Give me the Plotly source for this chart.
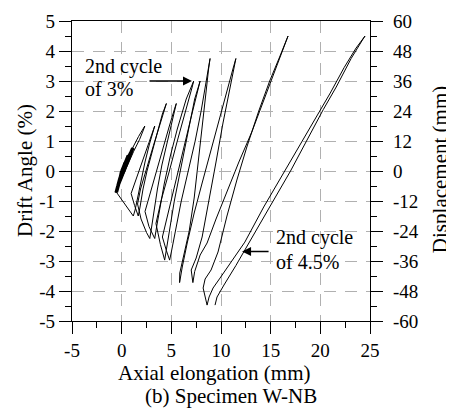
import plotly.graph_objects as go

# ---------------- data ----------------
# small cycles (0.25 %, 0.5 %, 0.75 %)
elong_small = [0.0, 0.15, 0.3, 0.15, -0.05, -0.2, -0.05, 0.15, 0.32, 0.18, 0.0, -0.18, -0.05,
               0.2, 0.45, 0.62, 0.4, 0.1, -0.2, -0.4, -0.2, 0.15, 0.45, 0.68, 0.45, 0.12, -0.2, -0.38, -0.15,
               0.2, 0.6, 0.9, 1.08, 0.85, 0.45, 0.0, -0.35, -0.58, -0.4, 0.0, 0.45, 0.85, 1.15, 0.9, 0.5, 0.05, -0.3, -0.5]
drift_small = [0.0, 0.12, 0.25, 0.1, -0.1, -0.25, -0.08, 0.12, 0.26, 0.1, -0.1, -0.25, -0.05,
               0.15, 0.35, 0.5, 0.25, -0.05, -0.3, -0.5, -0.25, 0.1, 0.35, 0.52, 0.28, -0.05, -0.32, -0.52, -0.2,
               0.12, 0.42, 0.62, 0.75, 0.55, 0.22, -0.15, -0.45, -0.72, -0.5, -0.12, 0.25, 0.55, 0.77, 0.55, 0.22, -0.15, -0.45, -0.7]

# 1.5 % cycles
elong_15 = [-0.3, 0.2, 0.7, 1.15, 1.7, 2.1, 2.33, 2.25, 1.8, 1.2, 0.5, -0.2, -0.5, 0.2, 0.8, 1.17,
            1.35, 1.6, 1.95, 2.35, 2.8, 3.15, 3.33, 3.2, 2.75, 2.1, 1.45, 0.95, 1.3, 1.67]
drift_15 = [-0.4, 0.05, 0.45, 0.8, 1.15, 1.4, 1.5, 1.42, 1.05, 0.65, 0.1, -0.4, -0.72, -1.05, -1.35, -1.5,
            -1.3, -0.9, -0.3, 0.3, 0.9, 1.3, 1.5, 1.38, 0.95, 0.35, -0.25, -0.75, -1.15, -1.5]

# 2.25 % cycles
elong_225 = [1.85, 2.15, 2.55, 3.05, 3.6, 4.1, 4.5, 4.35, 3.9, 3.2, 2.5, 1.9, 1.6, 1.95, 2.5, 2.83,
             3.0, 3.25, 3.6, 4.05, 4.6, 5.1, 5.5, 5.35, 4.8, 4.1, 3.4, 2.75, 2.35, 2.75, 3.15, 3.33]
drift_225 = [-1.2, -0.6, 0.0, 0.6, 1.3, 1.9, 2.25, 2.1, 1.6, 0.85, 0.1, -0.6, -1.1, -1.6, -2.05, -2.25,
             -1.9, -1.3, -0.6, 0.2, 1.0, 1.75, 2.25, 2.1, 1.5, 0.7, -0.1, -0.85, -1.35, -1.85, -2.15, -2.25]

# 3 % cycles
elong_3 = [3.5, 3.85, 4.3, 4.9, 5.6, 6.5, 7.25, 7.1, 6.4, 5.6, 4.8, 4.0, 3.45, 3.9, 4.33,
           4.5, 4.85, 5.3, 5.9, 6.6, 7.35, 7.9, 7.7, 7.0, 6.2, 5.3, 4.5, 4.1, 4.5, 4.83]
drift_3 = [-1.9, -1.2, -0.4, 0.5, 1.4, 2.4, 3.0, 2.8, 2.0, 1.0, 0.0, -0.95, -1.75, -2.45, -2.97,
           -2.6, -1.9, -1.0, 0.0, 1.2, 2.4, 3.0, 2.75, 1.8, 0.7, -0.5, -1.6, -2.2, -2.65, -2.97]

# 3.75 % cycles
elong_375 = [5.0, 5.4, 6.0, 6.7, 7.4, 8.0, 8.5, 8.9, 8.75, 8.45, 8.1, 7.7, 7.3, 6.8, 6.2, 5.85, 5.83,
             6.1, 6.6, 7.3, 8.1, 8.9, 9.8, 10.7, 11.2, 11.5, 11.35, 10.9, 10.2, 9.5, 8.8, 8.1, 7.5, 7.0, 7.17]
drift_375 = [-2.7, -2.0, -1.0, 0.0, 1.0, 2.0, 3.0, 3.75, 3.4, 2.5, 1.4, 0.2, -0.9, -2.0, -2.9, -3.4, -3.72,
             -3.2, -2.4, -1.4, -0.4, 0.6, 1.7, 2.8, 3.4, 3.75, 3.5, 2.8, 1.6, 0.3, -1.0, -2.2, -2.9, -3.3, -3.72]

# 4.5 % cycles
elong_45 = [7.35, 7.9, 8.6, 9.5, 10.7, 11.8, 13.1, 14.4, 15.6, 16.3, 16.75,
            16.5, 15.9, 14.9, 13.8, 12.6, 11.6, 10.6, 9.7, 9.0, 8.4, 8.2, 8.45, 8.6,
            8.8, 9.2, 9.9, 11.1, 12.4, 14.3, 16.4, 18.4, 19.9, 21.0, 22.4, 23.6, 24.5,
            24.3, 23.1, 21.6, 20.3, 18.9, 17.0, 14.9, 13.0, 11.5, 10.3, 9.6, 9.4]
drift_45 = [-3.35, -2.8, -2.4, -1.6, -0.6, 0.3, 1.3, 2.45, 3.5, 4.1, 4.5,
            4.3, 3.8, 3.0, 2.0, 0.8, -0.3, -1.5, -2.7, -3.3, -3.6, -3.9, -4.3, -4.47,
            -4.2, -3.9, -3.57, -3.0, -2.37, -1.2, 0.0, 1.1, 2.0, 2.6, 3.45, 4.1, 4.5,
            4.4, 3.75, 2.8, 2.05, 1.2, 0.0, -1.2, -2.3, -3.15, -3.8, -4.2, -4.47]

x_ticks = [-5, 0, 5, 10, 15, 20, 25]
x_ticklabels = ['-5', '0', '5', '10', '15', '20', '25']
y_ticks = [-5, -4, -3, -2, -1, 0, 1, 2, 3, 4, 5]
y_ticklabels = ['-5', '-4', '-3', '-2', '-1', '0', '1', '2', '3', '4', '5']
disp_ticks = [-60, -48, -36, -24, -12, 0, 12, 24, 36, 48, 60]
disp_ticklabels = ['-60', '-48', '-36', '-24', '-12', '0', '12', '24', '36', '48', '60']
mm_per_pct = 12  # 5 % drift = 60 mm displacement

# ---------------- figure ----------------
elong = elong_small + elong_15 + elong_225 + elong_3 + elong_375 + elong_45
drift = drift_small + drift_15 + drift_225 + drift_3 + drift_375 + drift_45

FONT = "'Liberation Serif', 'Times New Roman', Times, serif"
fig = go.Figure()
fig.add_trace(go.Scatter(x=elong, y=drift, mode='lines',
                         line=dict(color='black', width=1), hoverinfo='skip', showlegend=False))
# the many overlapping small cycles read as a thick dark band
fig.add_trace(go.Scatter(x=elong_small, y=drift_small, mode='lines',
                         line=dict(color='black', width=3), hoverinfo='skip', showlegend=False))
fig.add_trace(go.Scatter(x=elong, y=[d * mm_per_pct for d in drift], mode='lines', yaxis='y2',
                         line=dict(color='rgba(0,0,0,0)', width=0), hoverinfo='skip', showlegend=False))

axis_common = dict(ticks='outside', ticklen=12, tickwidth=1.3, tickcolor='black',
                   showline=True, linecolor='black', linewidth=1.3, zeroline=False, automargin=False,
                   tickfont=dict(family=FONT, size=19, color='black'))

# page body has an 8px margin: figure is sized to fit the 454x409 window
fig.update_layout(
    width=446, height=401,
    margin=dict(l=64, r=84, t=13, b=88, autoexpand=False),
    paper_bgcolor='white', plot_bgcolor='white',
    font=dict(family=FONT, size=19, color='black'),
    showlegend=False,
    xaxis=dict(range=[-5, 25], tickmode='array', tickvals=x_ticks, ticktext=x_ticklabels, mirror=True,
               showgrid=True, gridcolor='#b0b0b0', gridwidth=1, griddash='12px,9px',
               minor=dict(dtick=2.5, tick0=0, ticks='outside', ticklen=6, tickcolor='black', tickwidth=1.3, showgrid=False),
               ticklabelstandoff=0, **axis_common),
    yaxis=dict(range=[-5, 5], tickmode='array', tickvals=y_ticks, ticktext=y_ticklabels,
               showgrid=True, gridcolor='#b0b0b0', gridwidth=1, griddash='12px,9px',
               minor=dict(dtick=0.5, tick0=0, ticks='outside', ticklen=6, tickcolor='black', tickwidth=1.3, showgrid=False),
               ticklabelstandoff=0, **axis_common),
    yaxis2=dict(range=[-60, 60], overlaying='y', side='right', tickmode='array', tickvals=disp_ticks,
                ticktext=disp_ticklabels, showgrid=False,
                minor=dict(dtick=6, tick0=0, ticks='outside', ticklen=6, tickcolor='black', tickwidth=1.3, showgrid=False),
                ticklabelstandoff=6, **axis_common),
)

# white boxes behind the notes
fig.add_shape(type='rect', xref='x', yref='y', x0=-4.2, x1=4.4, y0=2.4, y1=3.88,
              fillcolor='white', line=dict(width=0), layer='below')
fig.add_shape(type='rect', xref='x', yref='y', x0=15.1, x1=23.8, y0=-3.52, y1=-1.78,
              fillcolor='white', line=dict(width=0), layer='below')

notes = [
    ('2nd cycle', -3.9, 3.48),
    ('of 3%', -3.9, 2.72),
    ('2nd cycle', 15.35, -2.2),
    ('of 4.5%', 15.35, -3.03),
]
for txt, nx, ny in notes:
    fig.add_annotation(text=txt, x=nx, y=ny, xref='x', yref='y', xanchor='left', yanchor='middle',
                       showarrow=False, font=dict(family=FONT, size=20, color='black'))

# arrows
fig.add_annotation(x=7.08, y=3.0, ax=2.65, ay=3.0, xref='x', yref='y', axref='x', ayref='y', text='',
                   showarrow=True, arrowhead=2, arrowsize=1.2, arrowwidth=1.5, arrowcolor='black')
fig.add_annotation(x=12.12, y=-2.68, ax=14.94, ay=-2.68, xref='x', yref='y', axref='x', ayref='y', text='',
                   showarrow=True, arrowhead=2, arrowsize=1.2, arrowwidth=1.5, arrowcolor='black')

# axis titles and caption
titles = [
    ('Axial elongation (mm)', 0.477, -0.173, 0),
    ('(b) Specimen W-NB', 0.534, -0.25, 0),
    ('Drift Angle (%)', -0.158, 0.503, -90),
    ('Displacement (mm)', 1.235, 0.503, -90),
]
for txt, tx, ty, ang in titles:
    fig.add_annotation(text=txt, x=tx, y=ty, xref='paper', yref='paper', textangle=ang,
                       xanchor='center', yanchor='middle', showarrow=False,
                       font=dict(family=FONT, size=21, color='black'))

fig.write_html('out.html')
